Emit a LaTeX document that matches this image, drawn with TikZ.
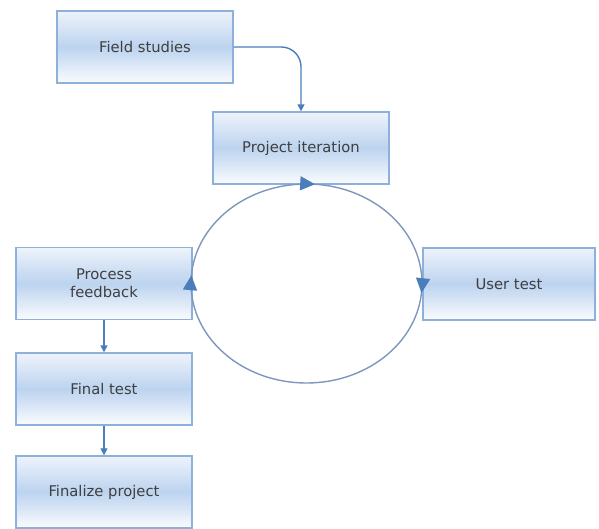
\documentclass[tikz,border=0pt]{standalone}
\usepackage{fontspec}
\setmainfont{DejaVu Sans}
\usetikzlibrary{arrows.meta, decorations.markings}
\definecolor{boxEdge}{HTML}{8EB1DC}
\definecolor{boxTop}{HTML}{EEF3FB}
\definecolor{boxMid}{HTML}{BCD3EF}
\definecolor{boxBottom}{HTML}{FAFCFE}
\definecolor{arrowBlue}{HTML}{4A7EBB}
\definecolor{loopGray}{HTML}{7F97BD}
\definecolor{textDark}{HTML}{3F3F3F}

\begin{document}
\begin{tikzpicture}[>={Triangle[length=5pt, width=5pt]}]

    \useasboundingbox (0,0) rectangle (14.975,-13.225);

    % --- 1. The Boxes ---
    % Common box style
    \tikzstyle{stage}=[rectangle, draw=boxEdge, line width=1pt, top color=boxTop, bottom color=boxBottom, middle color=boxMid, minimum width=4.4cm, minimum height=1.8cm, inner sep=2pt, font=\fontsize{10.5}{12.5}\selectfont, text=textDark, align=center]

    \node[stage] (field) at (3.625, -1.175) {Field studies};
    \node[stage] (iter) at (7.525, -3.7) {Project iteration};
    \node[stage] (feedback) at (2.6, -7.0875) {Process\\feedback};
    \node[stage, minimum width=4.3cm] (usertest) at (12.725, -7.1) {User test};
    \node[stage] (finaltest) at (2.6, -9.725) {Final test};
    \node[stage] (finalize) at (2.6, -12.3) {Finalize project};


    % --- 2. The Loop ---
    % Clockwise, starting at the top
    \coordinate (loopCenter) at (7.6625, -7.0875);
    \draw[loopGray, line width=1pt, postaction={decorate}, decoration={markings,
            mark=at position 0.0125 with {\arrow{Triangle[length=10.5pt, width=10pt, color=arrowBlue]}},
            mark=at position 0.264 with {\arrow{Triangle[length=10.5pt, width=10pt, color=arrowBlue]}},
            mark=at position 0.762 with {\arrow{Triangle[length=10.5pt, width=10pt, color=arrowBlue]}}}]
        ([yshift=2.4875cm]loopCenter) arc[start angle=90, end angle=-270, x radius=2.8875cm, y radius=2.4875cm];


    % --- 3. Connectors ---
    \draw[->, arrowBlue, line width=1pt, rounded corners=14pt] (field.east) -| (iter.north);
    \draw[->, arrowBlue, line width=1pt] (feedback) -- (finaltest);
    \draw[->, arrowBlue, line width=1pt] (finaltest) -- (finalize);

\end{tikzpicture}
\end{document}
